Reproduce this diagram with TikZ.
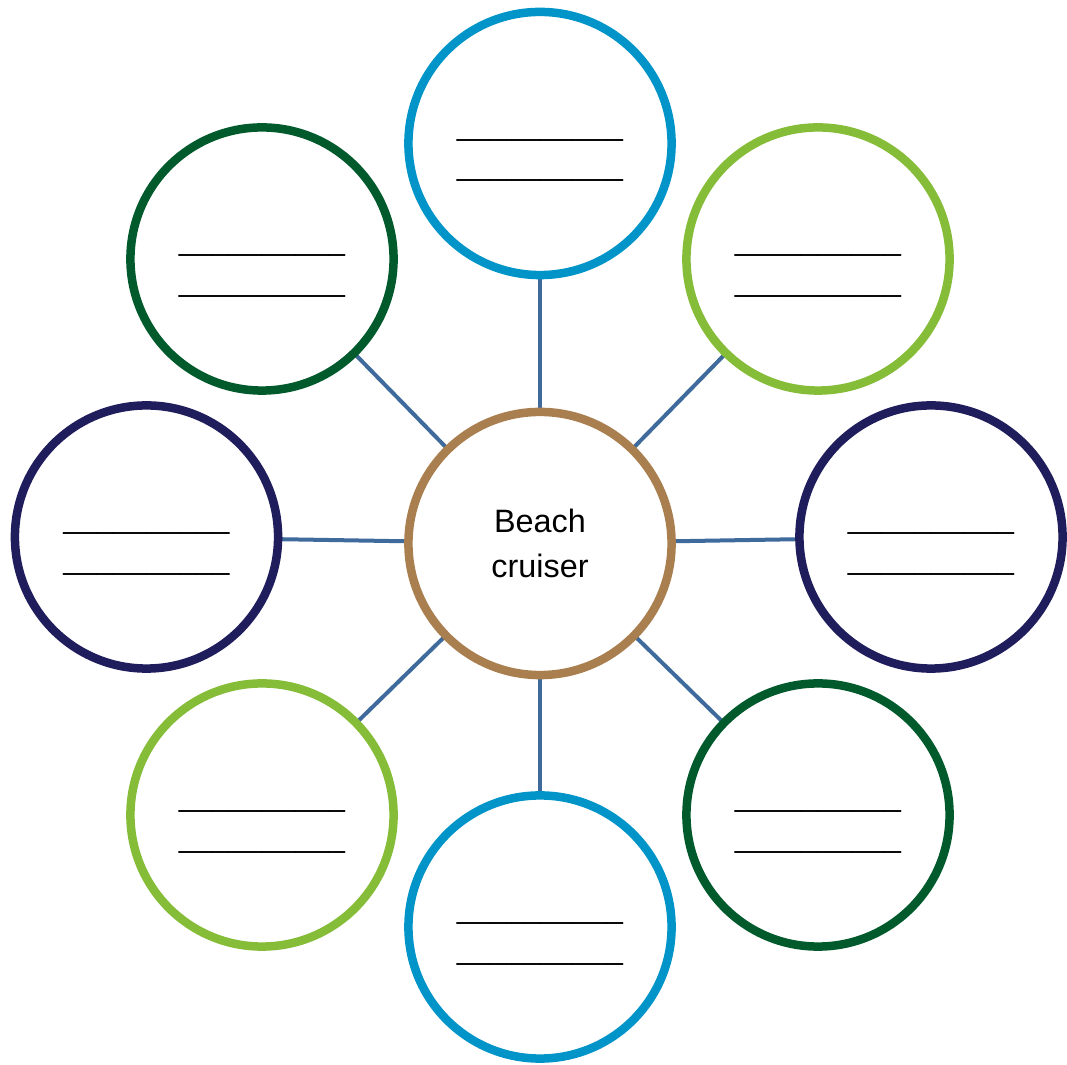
\documentclass[tikz,border=0pt]{standalone}
\usepackage{fontspec}
\setmainfont{Liberation Sans}
\usetikzlibrary{positioning,backgrounds,shadows}
\definecolor{hubbrown}{RGB}{169,127,80}
\definecolor{skyblue}{RGB}{0,148,200}
\definecolor{leafgreen}{RGB}{133,188,56}
\definecolor{pinegreen}{RGB}{0,90,44}
\definecolor{inknavy}{RGB}{32,29,92}
\definecolor{linkblue}{RGB}{63,106,156}
\newcommand \myblank
{\rule{0pt}{0.30cm}\_\_\_\_\_\_\_\_\_\_\\\_\_\_\_\_\_\_\_\_\_}

\begin{document}
\begin{tikzpicture}[x=0.01cm, y=-0.01cm,
  bubble/.style={circle, draw, fill=white, line width=0.085cm, minimum size=2.63cm,
    inner sep=0pt, align=center, font=\fontsize{9.2}{12.8}\selectfont,
    drop shadow={shadow xshift=0.7pt, shadow yshift=-0.7pt, opacity=0.2}},
  blank/.style={bubble, font=\fontsize{8.5}{11.4}\selectfont},
  link/.style={line width=0.04cm, draw=linkblue}]
\useasboundingbox (0,0) rectangle (1067,1065);
% hub
\node[bubble, draw=hubbrown] (hub) at (540,543.5) {Beach\\cruiser};
% spokes
\node[blank, draw=skyblue]   (top)  at (540,143.5) {\myblank};
\node[blank, draw=leafgreen] (ur)   at (818,259)   {\myblank};
\node[blank, draw=inknavy]   (rt)   at (931,537)   {\myblank};
\node[blank, draw=pinegreen] (lr)   at (818,815)   {\myblank};
\node[blank, draw=skyblue]   (bot)  at (540,927)   {\myblank};
\node[blank, draw=leafgreen] (ll)   at (262,815)   {\myblank};
\node[blank, draw=inknavy]   (lt)   at (146.5,537) {\myblank};
\node[blank, draw=pinegreen] (ul)   at (262,259)   {\myblank};
\begin{scope}[on background layer]
\foreach \n in {top,ur,rt,lr,bot,ll,lt,ul}
  \draw[link] (hub.center) -- (\n.center);
\end{scope}
\end{tikzpicture}
\end{document}
